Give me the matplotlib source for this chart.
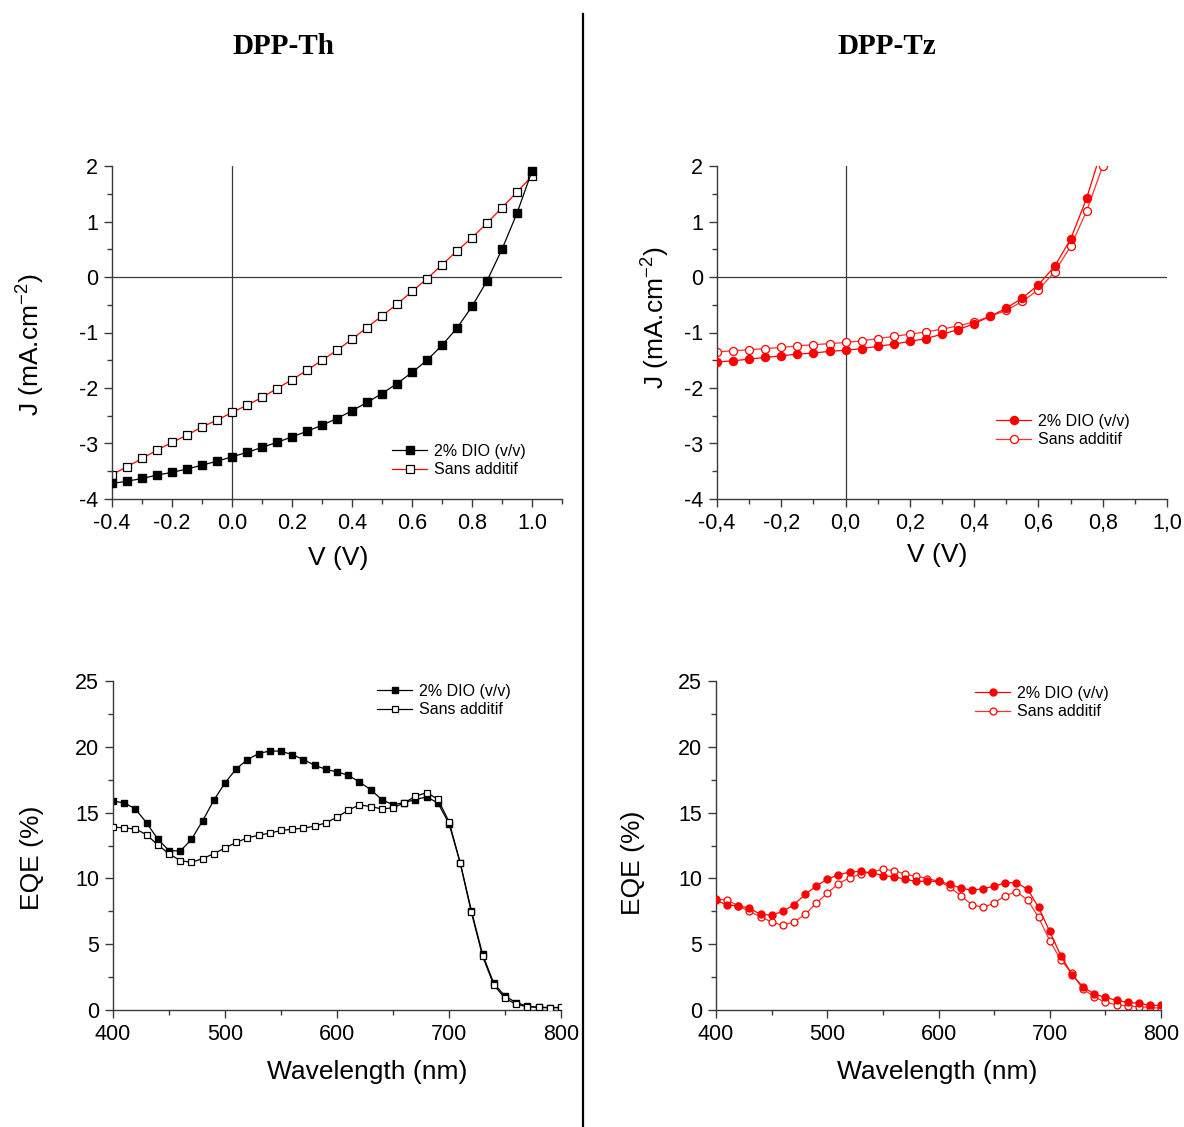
# J-V curves and EQE spectra for DPP-Th and DPP-Tz devices
import matplotlib
matplotlib.use("Agg")
import matplotlib.pyplot as plt
from matplotlib.lines import Line2D
from matplotlib.ticker import MultipleLocator, FuncFormatter

plt.rcParams['font.family'] = ['Liberation Sans', 'DejaVu Sans']
plt.rcParams['axes.unicode_minus'] = False
plt.rcParams['mathtext.fontset'] = 'custom'
plt.rcParams['mathtext.rm'] = 'Liberation Sans'

# ---- data ----
# J-V, DPP-Th
v_th = [-0.40, -0.35, -0.30, -0.25, -0.20, -0.15, -0.10, -0.05, 0.00, 0.05,
        0.10, 0.15, 0.20, 0.25, 0.30, 0.35, 0.40, 0.45, 0.50, 0.55,
        0.60, 0.65, 0.70, 0.75, 0.80, 0.85, 0.90, 0.95, 1.00]
j_th_dio = [-3.72, -3.68, -3.63, -3.57, -3.52, -3.46, -3.39, -3.32, -3.24, -3.16,
            -3.07, -2.98, -2.88, -2.78, -2.67, -2.55, -2.41, -2.26, -2.10, -1.92,
            -1.72, -1.50, -1.23, -0.92, -0.53, -0.07, 0.50, 1.15, 1.91]
j_th_sans = [-3.56, -3.42, -3.27, -3.12, -2.98, -2.85, -2.70, -2.58, -2.44, -2.31,
             -2.17, -2.01, -1.85, -1.68, -1.50, -1.32, -1.12, -0.91, -0.70, -0.49,
             -0.26, -0.03, 0.22, 0.47, 0.71, 0.97, 1.25, 1.53, 1.82]

# J-V, DPP-Tz
v_tz = [-0.40, -0.35, -0.30, -0.25, -0.20, -0.15, -0.10, -0.05, 0.00, 0.05,
        0.10, 0.15, 0.20, 0.25, 0.30, 0.35, 0.40, 0.45, 0.50, 0.55,
        0.60, 0.65, 0.70, 0.75, 0.80]
j_tz_dio = [-1.53, -1.51, -1.48, -1.45, -1.42, -1.39, -1.37, -1.34, -1.32, -1.29,
            -1.25, -1.21, -1.16, -1.11, -1.03, -0.95, -0.84, -0.71, -0.56, -0.38,
            -0.14, 0.19, 0.68, 1.42, 2.35]
j_tz_sans = [-1.35, -1.33, -1.31, -1.29, -1.27, -1.24, -1.22, -1.20, -1.18, -1.15,
             -1.11, -1.07, -1.03, -0.99, -0.94, -0.88, -0.81, -0.71, -0.60, -0.44,
             -0.23, 0.09, 0.55, 1.19, 2.00]

# EQE spectra
wl = [400, 410, 420, 430, 440, 450, 460, 470, 480, 490,
      500, 510, 520, 530, 540, 550, 560, 570, 580, 590,
      600, 610, 620, 630, 640, 650, 660, 670, 680, 690,
      700, 710, 720, 730, 740, 750, 760, 770, 780, 790, 800]
eqe_th_dio = [15.87, 15.74, 15.28, 14.22, 12.98, 12.12, 12.07, 12.96, 14.37, 15.94,
              17.26, 18.32, 19.03, 19.48, 19.69, 19.66, 19.41, 19.03, 18.60, 18.29,
              18.09, 17.84, 17.33, 16.75, 15.99, 15.59, 15.76, 15.99, 16.19, 15.74,
              14.17, 11.18, 7.54, 4.23, 2.02, 1.06, 0.56, 0.30, 0.20, 0.18, 0.18]
eqe_th_sans = [13.92, 13.82, 13.77, 13.31, 12.55, 11.87, 11.36, 11.21, 11.51, 11.87,
               12.32, 12.73, 13.08, 13.28, 13.44, 13.64, 13.74, 13.82, 13.97, 14.22,
               14.65, 15.18, 15.59, 15.46, 15.28, 15.36, 15.74, 16.24, 16.52, 16.02,
               14.32, 11.18, 7.41, 4.07, 1.90, 0.89, 0.43, 0.25, 0.20, 0.18, 0.20]
eqe_tz_dio = [8.35, 7.97, 7.92, 7.74, 7.26, 7.21, 7.49, 8.00, 8.78, 9.41,
              9.94, 10.27, 10.48, 10.53, 10.43, 10.22, 10.12, 9.94, 9.77, 9.79,
              9.77, 9.56, 9.26, 9.11, 9.21, 9.41, 9.67, 9.67, 9.19, 7.79,
              5.97, 4.12, 2.68, 1.75, 1.21, 0.96, 0.73, 0.58, 0.51, 0.35, 0.35]
eqe_tz_sans = [8.43, 8.35, 7.92, 7.49, 7.09, 6.68, 6.43, 6.68, 7.26, 8.10,
               8.88, 9.59, 10.05, 10.32, 10.50, 10.68, 10.60, 10.32, 10.15, 9.99,
               9.79, 9.36, 8.68, 8.00, 7.79, 8.12, 8.70, 8.98, 8.38, 7.03,
               5.26, 3.80, 2.78, 1.57, 1.01, 0.58, 0.40, 0.30, 0.25, 0.20, 0.13]

labels = ['2% DIO (v/v)', 'Sans additif']

# ---- figure, laid out in pixels ----
W, H = 1184, 1127
fig = plt.figure(figsize=(W / 100, H / 100), dpi=100)


def rect(x0, y0, x1, y1):
    return [x0 / W, 1 - y1 / H, (x1 - x0) / W, (y1 - y0) / H]


def fpos(x, y):
    return x / W, 1 - y / H


AX_COLOR = '#3a3a3a'


def style_axes(ax):
    for s in ['top', 'right']:
        ax.spines[s].set_visible(False)
    for s in ['left', 'bottom']:
        ax.spines[s].set_color(AX_COLOR)
        ax.spines[s].set_linewidth(1.0)
    ax.tick_params(which='both', direction='out', color=AX_COLOR, width=1.0,
                   labelsize=15.5, pad=4)
    ax.tick_params(which='major', length=6)
    ax.tick_params(which='minor', length=3.5)


ax1 = fig.add_axes(rect(112, 166, 562, 499))
ax2 = fig.add_axes(rect(717, 166, 1167, 499))
ax3 = fig.add_axes(rect(113, 681, 561, 1010))
ax4 = fig.add_axes(rect(716, 681, 1161, 1010))

# J-V DPP-Th
ax1.axhline(0, color=AX_COLOR, lw=0.9, zorder=1)
ax1.axvline(0, color=AX_COLOR, lw=0.9, zorder=1)
ax1.plot(v_th, j_th_dio, color='black', lw=0.9, marker='s', ms=5.6,
         mfc='black', mec='black', label=labels[0], zorder=3)
ax1.plot(v_th, j_th_sans, color='red', lw=0.9, marker='s', ms=5.6,
         mfc='white', mec='black', mew=0.9, label=labels[1], zorder=2)
ax1.set_xlim(-0.4, 1.1)
ax1.set_ylim(-4, 2)
ax1.xaxis.set_major_locator(MultipleLocator(0.2))
ax1.xaxis.set_minor_locator(MultipleLocator(0.1))
ax1.yaxis.set_major_locator(MultipleLocator(1))
ax1.yaxis.set_minor_locator(MultipleLocator(0.5))
ax1.xaxis.set_major_formatter(FuncFormatter(lambda v, p: f'{v:.1f}'.replace('-0.0', '0.0')))
ax1.yaxis.set_major_formatter(FuncFormatter(lambda v, p: f'{v:.0f}'))

# J-V DPP-Tz
ax2.axhline(0, color=AX_COLOR, lw=0.9, zorder=1)
ax2.axvline(0, color=AX_COLOR, lw=0.9, zorder=1)
ax2.plot(v_tz, j_tz_dio, color='red', lw=0.9, marker='o', ms=5.8,
         mfc='red', mec='red', label=labels[0], zorder=3)
ax2.plot(v_tz, j_tz_sans, color='#ff3030', lw=0.9, marker='o', ms=5.8,
         mfc='white', mec='red', mew=0.9, label=labels[1], zorder=2)
ax2.set_xlim(-0.4, 1.0)
ax2.set_ylim(-4, 2)
ax2.xaxis.set_major_locator(MultipleLocator(0.2))
ax2.xaxis.set_minor_locator(MultipleLocator(0.1))
ax2.yaxis.set_major_locator(MultipleLocator(1))
ax2.yaxis.set_minor_locator(MultipleLocator(0.5))
ax2.xaxis.set_major_formatter(FuncFormatter(
    lambda v, p: f'{v:.1f}'.replace('-0.0', '0.0').replace('.', ',')))
ax2.yaxis.set_major_formatter(FuncFormatter(lambda v, p: f'{v:.0f}'))

# EQE DPP-Th
ax3.plot(wl, eqe_th_dio, color='black', lw=0.9, marker='s', ms=4.8,
         mfc='black', mec='black', label=labels[0], zorder=2)
ax3.plot(wl, eqe_th_sans, color='black', lw=0.9, marker='s', ms=4.8,
         mfc='white', mec='black', mew=0.9, label=labels[1], zorder=3)
ax3.set_xlim(400, 800)
ax3.set_ylim(0, 25)

# EQE DPP-Tz
ax4.plot(wl, eqe_tz_dio, color='red', lw=0.9, marker='o', ms=5.0,
         mfc='red', mec='red', label=labels[0], zorder=3)
ax4.plot(wl, eqe_tz_sans, color='#ff3030', lw=0.9, marker='o', ms=5.0,
         mfc='white', mec='red', mew=0.9, label=labels[1], zorder=2)
ax4.set_xlim(400, 800)
ax4.set_ylim(0, 25)

for ax in (ax3, ax4):
    ax.xaxis.set_major_locator(MultipleLocator(100))
    ax.xaxis.set_minor_locator(MultipleLocator(50))
    ax.yaxis.set_major_locator(MultipleLocator(5))
    ax.yaxis.set_minor_locator(MultipleLocator(2.5))
    ax.xaxis.set_major_formatter(FuncFormatter(lambda v, p: f'{v:.0f}'))
    ax.yaxis.set_major_formatter(FuncFormatter(lambda v, p: f'{v:.0f}'))

for ax in (ax1, ax2, ax3, ax4):
    style_axes(ax)

# legends
for ax, anchor in [(ax1, (392, 444)), (ax2, (996, 414)),
                   (ax3, (377, 684)), (ax4, (975, 686))]:
    ax.legend(loc='upper left', bbox_to_anchor=fpos(*anchor),
              bbox_transform=fig.transFigure, frameon=False, fontsize=11.5,
              borderpad=0, borderaxespad=0, handlelength=2.2,
              handletextpad=0.4, labelspacing=0.2)

# axis labels
jlabel = r'J (mA.cm$^{\mathregular{-2}}$)'
fig.text(*fpos(30, 345), jlabel, rotation=90, ha='center', va='center', fontsize=19)
fig.text(*fpos(655, 318), jlabel, rotation=90, ha='center', va='center', fontsize=19)
fig.text(*fpos(32, 858), 'EQE (%)', rotation=90, ha='center', va='center', fontsize=19)
fig.text(*fpos(633, 863), 'EQE (%)', rotation=90, ha='center', va='center', fontsize=19)
fig.text(*fpos(338, 558), 'V (V)', ha='center', va='center', fontsize=19)
fig.text(*fpos(937, 555), 'V (V)', ha='center', va='center', fontsize=19)
fig.text(*fpos(367, 1072), 'Wavelength (nm)', ha='center', va='center', fontsize=19)
fig.text(*fpos(937, 1072), 'Wavelength (nm)', ha='center', va='center', fontsize=19)

# column titles
fig.text(*fpos(283, 47), 'DPP-Th', ha='center', va='center', fontsize=21,
         fontweight='bold', family=['Liberation Serif', 'DejaVu Serif'])
fig.text(*fpos(887, 47), 'DPP-Tz', ha='center', va='center', fontsize=21,
         fontweight='bold', family=['Liberation Serif', 'DejaVu Serif'])

# vertical divider between the two columns
fig.add_artist(Line2D([583 / W, 583 / W], [1 - 14 / H, 0], color='black', lw=1.6,
                      transform=fig.transFigure))

fig.savefig('out.png', dpi=100)
